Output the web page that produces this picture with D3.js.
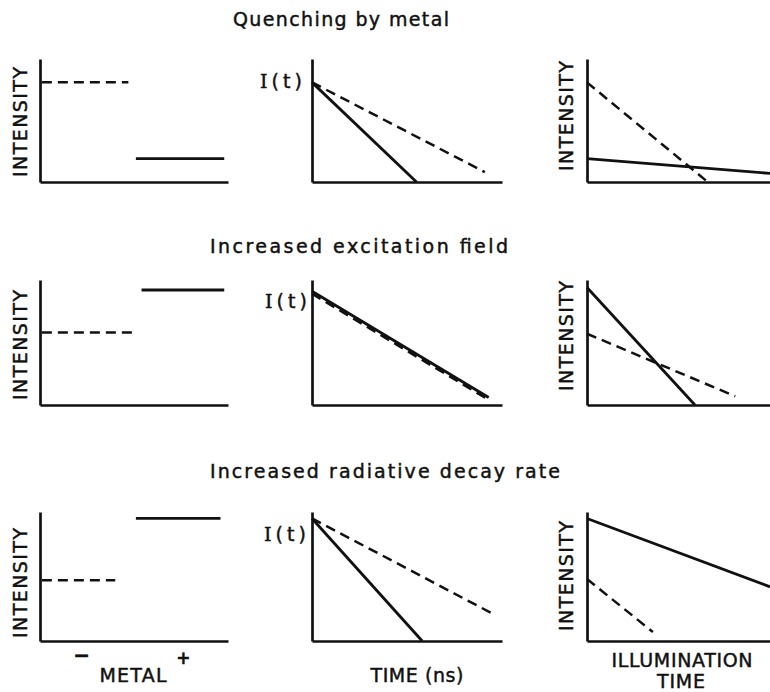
<!DOCTYPE html>
<html>
<head>
<meta charset="utf-8">
<script src="https://cdn.jsdelivr.net/npm/d3@7"></script>
<style>
  html, body { margin: 0; padding: 0; background: #fff; }
  svg { display: block; }
  text { fill: #111; stroke: #111; stroke-width: 0.45px; font-family: "DejaVu Sans", sans-serif; }
</style>
</head>
<body>
<svg id="chart" width="770" height="692"></svg>
<script>
// Row headings
const rowTitles = ["Quenching by metal", "Increased excitation field", "Increased radiative decay rate"];

// Column 1: steady-state intensity without metal (dashed) and with metal (solid), 0–100 units
const steadyFree = [81, 58, 47];
const steadyMetal = [19, 92, 95];
const steadyFreeSpan = [[1, 47], [1, 49], [1, 40]];
const steadyMetalSpan = [[51, 98], [54, 98], [51, 96]];
const metalSigns = ["−", "+"];

// Column 2: intensity decays I(t) as [t0, I0, t1, I1]
const decayFree = [[0, 81, 91, 8], [0, 89, 92, 5], [0, 95, 94, 22]];
const decayMetal = [[0, 81, 55, 0], [0, 91, 93, 6], [0, 95, 58, 0]];

// Column 3: intensity vs illumination time as [t0, I0, t1, I1]
const bleachFree = [[0, 81, 66, 0], [0, 57, 81, 7], [0, 48, 36, 7]];
const bleachMetal = [[0, 19, 100, 7], [0, 94, 59, 0], [0, 95, 100, 42]];

// Bottom-axis captions
const colCaptions = [["METAL"], ["TIME (ns)"], ["ILLUMINATION", "TIME"]];

// Layout
const cols = [{ x0: 40, x1: 228 }, { x0: 312, x1: 502 }, { x0: 587, x1: 770 }];
const rows = [{ top: 59, bottom: 182, title: 26 }, { top: 280, bottom: 405, title: 253 }, { top: 512, bottom: 641, title: 478 }];
const titleSpans = [[233, 449], [210, 508], [210, 560]];

const svg = d3.select("#chart");

const lineGen = d3.line();

function panel(ci, ri) {
  const c = cols[ci], r = rows[ri];
  const x = d3.scaleLinear().domain([0, 100]).range([c.x0, c.x1]);
  const y = d3.scaleLinear().domain([0, 100]).range([r.bottom, r.top]);
  const g = svg.append("g");

  const ax = g.append("g").attr("transform", `translate(0,${r.bottom})`)
    .call(d3.axisBottom(x).ticks(0).tickSizeOuter(0));
  const ay = g.append("g").attr("transform", `translate(${c.x0},0)`)
    .call(d3.axisLeft(y).ticks(0).tickSizeOuter(0));
  [ax, ay].forEach(a => a.select(".domain").attr("stroke", "#111").attr("stroke-width", 2.7));

  return { g, x, y };
}

function seg(p, d, dashed) {
  p.g.append("path")
    .attr("d", lineGen([[p.x(d[0]), p.y(d[1])], [p.x(d[2]), p.y(d[3])]]))
    .attr("fill", "none")
    .attr("stroke", "#111")
    .attr("stroke-width", dashed ? 2.5 : 2.8)
    .attr("stroke-dasharray", dashed ? "10,6" : null);
}

function intensityLabel(xb, yc) {
  svg.append("text")
    .attr("transform", `translate(${xb},${yc}) rotate(-90)`)
    .attr("text-anchor", "middle")
    .attr("font-size", 19)
    .attr("textLength", 110)
    .attr("lengthAdjust", "spacing")
    .text("INTENSITY");
}

function itLabel(xl, yb) {
  const t = svg.append("text")
    .attr("x", xl).attr("y", yb)
    .attr("font-size", 19)
    .attr("textLength", 42)
    .attr("lengthAdjust", "spacing");
  t.append("tspan").attr("font-family", "DejaVu Serif, serif").text("I");
  t.append("tspan").text("(t)");
}

const intensityPos = [[[27, 122], [573, 116]], [[27, 345], [573, 336]], [[27, 583], [573, 576]]];
const itPos = [[260, 88], [265, 308], [264, 541]];

rows.forEach((r, ri) => {
  // heading
  svg.append("text")
    .attr("x", titleSpans[ri][0]).attr("y", r.title)
    .attr("font-size", 19)
    .attr("textLength", titleSpans[ri][1] - titleSpans[ri][0])
    .attr("lengthAdjust", "spacing")
    .text(rowTitles[ri]);

  // steady-state
  const pA = panel(0, ri);
  seg(pA, [steadyFreeSpan[ri][0], steadyFree[ri], steadyFreeSpan[ri][1], steadyFree[ri]], true);
  seg(pA, [steadyMetalSpan[ri][0], steadyMetal[ri], steadyMetalSpan[ri][1], steadyMetal[ri]], false);

  // decay
  const pB = panel(1, ri);
  seg(pB, decayFree[ri], true);
  seg(pB, decayMetal[ri], false);

  // photostability
  const pC = panel(2, ri);
  seg(pC, bleachFree[ri], true);
  seg(pC, bleachMetal[ri], false);

  intensityLabel(intensityPos[ri][0][0], intensityPos[ri][0][1]);
  intensityLabel(intensityPos[ri][1][0], intensityPos[ri][1][1]);
  itLabel(itPos[ri][0], itPos[ri][1]);
});

// metal sign markers under column 1
const signX = d3.scaleBand().domain(metalSigns).range([cols[0].x0, cols[0].x1]).paddingInner(0.1).paddingOuter(0.02);
svg.append("text").attr("x", signX("−") + signX.bandwidth() / 2 - 4).attr("y", 662)
  .attr("text-anchor", "middle").attr("font-size", 20).attr("font-weight", "bold").text("−");
svg.append("text").attr("x", signX("+") + signX.bandwidth() / 2 + 1).attr("y", 664)
  .attr("text-anchor", "middle").attr("font-size", 17).attr("font-weight", "bold").text("+");

// captions
const captionPos = [[[133, 682]], [[417, 682]], [[682, 667], [681, 688]]];
const captionLen = [[67], [93], [141, 48]];
colCaptions.forEach((lines, ci) => {
  lines.forEach((t, li) => {
    svg.append("text")
      .attr("x", captionPos[ci][li][0]).attr("y", captionPos[ci][li][1])
      .attr("text-anchor", "middle")
      .attr("font-size", 19)
      .attr("textLength", captionLen[ci][li])
      .attr("lengthAdjust", "spacing")
      .text(t);
  });
});
</script>
</body>
</html>
